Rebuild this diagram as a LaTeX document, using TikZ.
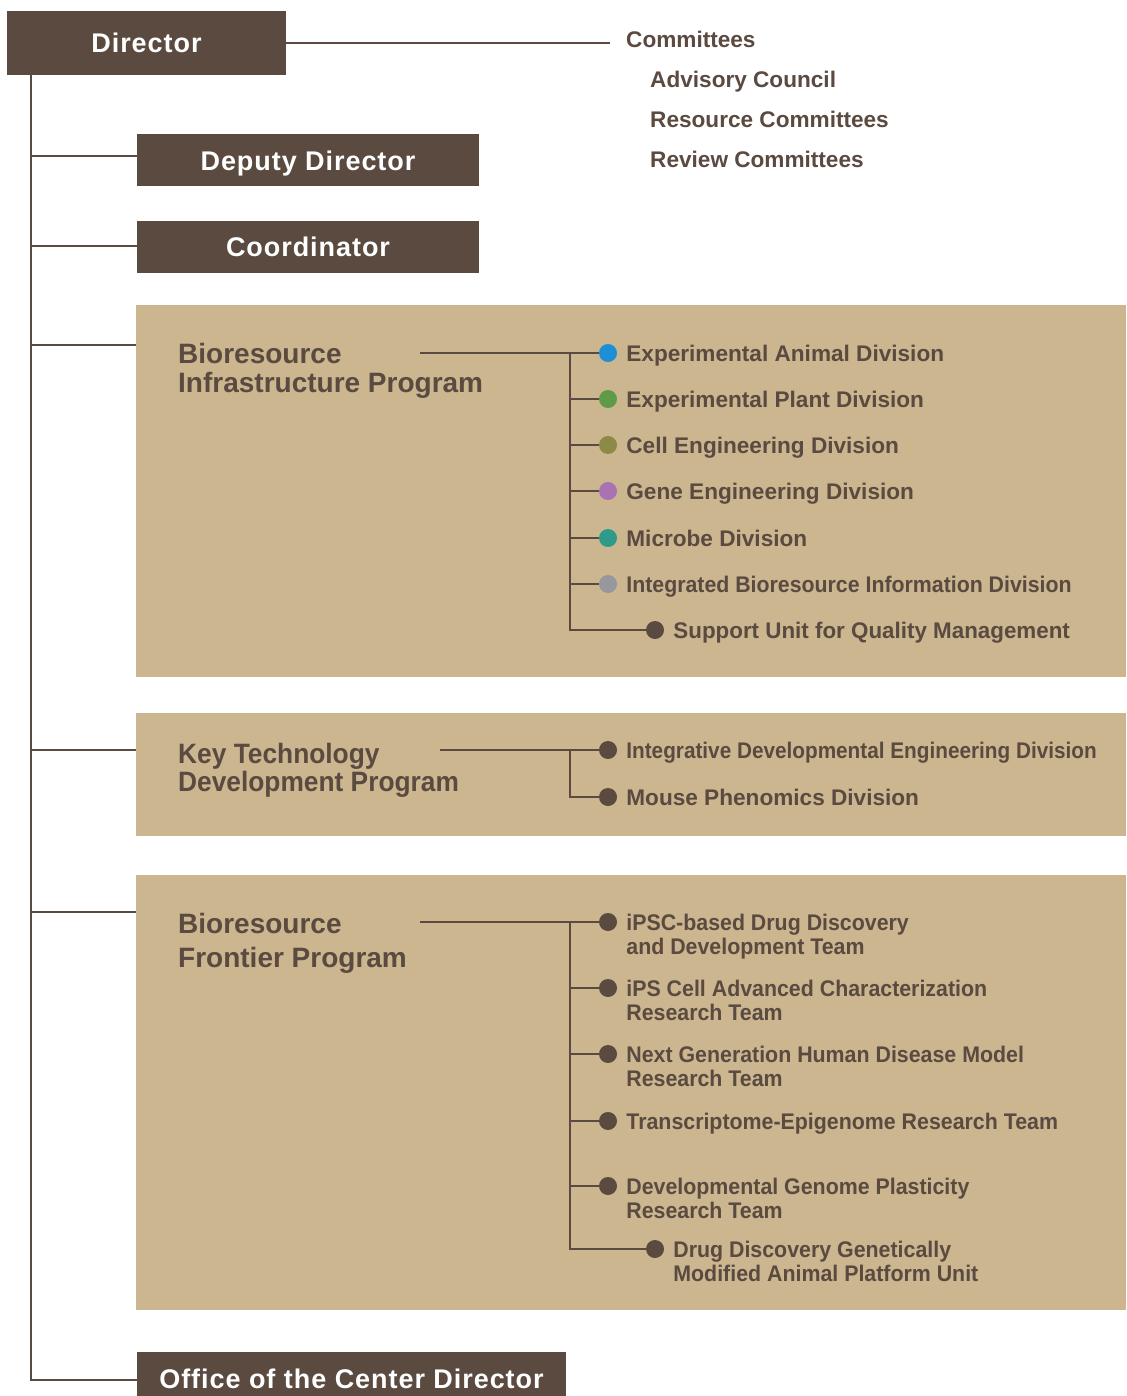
\documentclass[tikz,border=0pt]{standalone}
\usepackage{fontspec}
\setmainfont{Liberation Sans}
\usetikzlibrary{positioning}

\definecolor{bark}{RGB}{90,74,64}
\definecolor{sand}{RGB}{203,182,144}
\definecolor{dotblue}{RGB}{30,143,213}
\definecolor{dotgreen}{RGB}{94,154,72}
\definecolor{dotolive}{RGB}{140,138,69}
\definecolor{dotpurple}{RGB}{168,114,179}
\definecolor{dotteal}{RGB}{46,154,138}
\definecolor{dotgray}{RGB}{150,152,158}

\tikzset{
	headbox/.style={fill=bark, text=white, inner sep=0, text height=19.4pt, text depth=0pt,
		font=\bfseries\fontsize{27}{30}\selectfont\addfontfeature{LetterSpace=3.5}},
	panel/.style={fill=sand, inner sep=0},
	link/.style={draw=bark, line width=2pt},
	unit/.style={circle, fill=#1, inner sep=0, minimum size=18pt},
	label/.style={anchor=base west, align=left, inner sep=0, text=bark,
		font=\bfseries\fontsize{22.6}{24}\selectfont},
	squeeze/.style={transform shape, xscale=#1},
	title/.style={anchor=base west, align=left, inner sep=0, text=bark,
		font=\bfseries\fontsize{28}{#1}\selectfont},
}

\begin{document}
\begin{tikzpicture}[x=1pt,y=-1pt]
	\useasboundingbox (0,0) rectangle (1126,1396);
	
	% top boxes
	\node[headbox, minimum width=279pt, minimum height=64pt] (dir) at (146.5,43) {Director};
	\node[headbox, minimum width=342pt, minimum height=52pt] (dep) at (308,160.5) {Deputy Director};
	\node[headbox, minimum width=342pt, minimum height=52pt] (coo) at (308,247) {Coordinator};
	\node[headbox, minimum width=429pt, minimum height=54pt] (ocd) at (351.5,1379) {Office of the Center Director};
	
	% panels
	\node[panel, minimum width=990pt, minimum height=372pt] (bip) at (631,491) {};
	\node[panel, minimum width=990pt, minimum height=123pt] (ktd) at (631,774.5) {};
	\node[panel, minimum width=990pt, minimum height=435pt] (bfp) at (631,1092.5) {};
	
	% committees
	\coordinate (cm) at (610,43);
	\draw[link] (dir.east |- cm) -- (cm);
	\node[label] (com) at (626,48) {Committees};
	\node[label] (adv) at (650,88) {Advisory Council};
	\node[label] (res) at (650,128) {Resource Committees};
	\node[label] (rev) at (650,168) {Review Committees};
	
	% trunk
	\coordinate (t0) at (31,75);
	\coordinate (t1) at (31,156);
	\coordinate (t2) at (31,246);
	\coordinate (t3) at (31,345);
	\coordinate (t4) at (31,750);
	\coordinate (t5) at (31,912);
	\coordinate (t6) at (31,1380);
	\draw[link] (t0) -- (t6) -- (ocd.west |- t6);
	\draw[link] (t1) -- (t1 -| dep.west);
	\draw[link] (t2) -- (t2 -| coo.west);
	\draw[link] (t3) -- (t3 -| bip.west);
	\draw[link] (t4) -- (t4 -| ktd.west);
	\draw[link] (t5) -- (t5 -| bfp.west);
	
	% Bioresource Infrastructure Program
	\node[title=29pt] (bipt) at (178,392) {Bioresource\\Infrastructure Program};
	\foreach \n/\y/\c/\s/\t in {1/353/dotblue/1/Experimental Animal Division,
		2/399/dotgreen/1/Experimental Plant Division,
		3/445/dotolive/1/Cell Engineering Division,
		4/491/dotpurple/1/Gene Engineering Division,
		5/538/dotteal/1/Microbe Division,
		6/584/dotgray/0.943/Integrated Bioresource Information Division}{
		\node[unit=\c] (a\n) at (608,\y) {};
		\node[label, squeeze=\s] at ([xshift=9pt,yshift=-8pt]a\n.east) {\t};
		\draw[link] (570,\y) -- (a\n);
	}
	\node[unit=bark] (a7) at (655,630) {};
	\node[label, squeeze=0.99] at ([xshift=9pt,yshift=-8pt]a7.east) {Support Unit for Quality Management};
	\draw[link] (420,353) -- (570,353) -- (570,630) -- (a7);
	
	% Key Technology Development Program
	\node[title=28pt, squeeze=0.94] (ktdt) at (178,791) {Key Technology\\Development Program};
	\node[unit=bark] (b1) at (608,750) {};
	\node[label, squeeze=0.918] at ([xshift=9pt,yshift=-8pt]b1.east) {Integrative Developmental Engineering Division};
	\node[unit=bark] (b2) at (608,797) {};
	\node[label] at ([xshift=9pt,yshift=-8pt]b2.east) {Mouse Phenomics Division};
	\draw[link] (440,750) -- (b1);
	\draw[link] (570,750) -- (570,797) -- (b2);
	
	% Bioresource Frontier Program
	\node[title=34pt] (bfpt) at (178,967) {Bioresource\\Frontier Program};
	\foreach \n/\y/\k/\t in {1/922/1/iPSC-based Drug Discovery\\and Development Team,
		2/988/1/iPS Cell Advanced Characterization\\Research Team,
		3/1054/1/Next Generation Human Disease Model\\Research Team,
		4/1121/0/Transcriptome-Epigenome Research Team,
		5/1186/1/Developmental Genome Plasticity\\Research Team}{
		\node[unit=bark] (c\n) at (608,\y) {};
		\node[label, squeeze=0.945] at ([xshift=9pt,yshift=-8pt-24pt*\k]c\n.east) {\t};
		\draw[link] (570,\y) -- (c\n);
	}
	\node[unit=bark] (c6) at (655,1249) {};
	\node[label, squeeze=0.945] at ([xshift=9pt,yshift=-32pt]c6.east) {Drug Discovery Genetically\\Modified Animal Platform Unit};
	\draw[link] (420,922) -- (570,922) -- (570,1249) -- (c6);
\end{tikzpicture}
\end{document}
